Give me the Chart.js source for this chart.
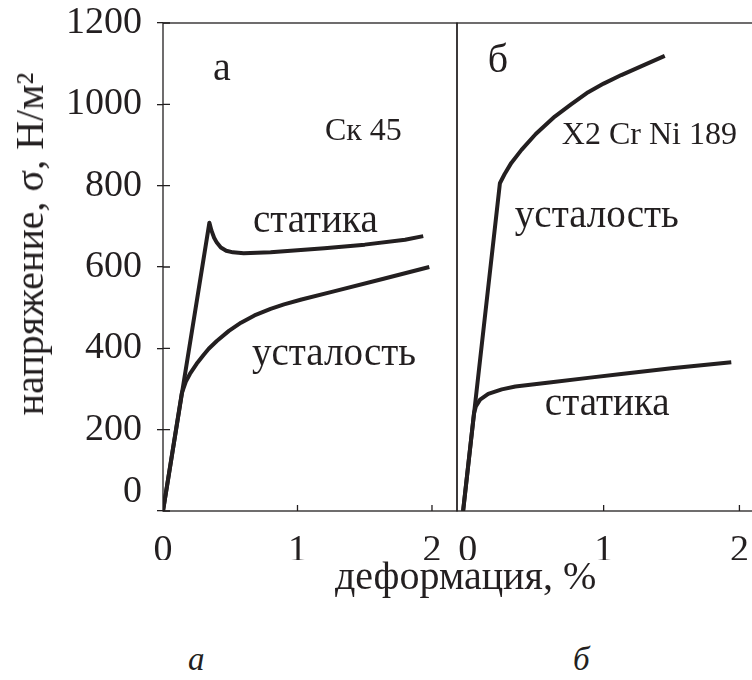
<!DOCTYPE html>
<html>
<head>
<meta charset="utf-8">
<script src="https://cdn.jsdelivr.net/npm/chart.js@4.4.0/dist/chart.umd.min.js"></script>
<style>
  html, body { margin: 0; padding: 0; background: #fff; width: 752px; height: 680px; overflow: hidden; }
  #wadah { position: relative; width: 752px; height: 680px; }
  canvas { position: absolute; top: 0; }
  .teks { position: absolute; font-family: "Liberation Serif", "Times New Roman", serif; color: #231f20; white-space: nowrap; line-height: 1; }
</style>
</head>
<body>
<div id="wadah">
  <canvas id="grafikA" width="460" height="560" style="left:0;width:460px;height:560px"></canvas>
  <canvas id="grafikB" width="320" height="560" style="left:440px;width:320px;height:560px"></canvas>
  <div class="teks" id="judulY" style="font-size:40px;left:29.5px;top:243.5px;transform:translate(-50%,-50%) rotate(-90deg)">напряжение, σ, Н/м²</div>
  <div class="teks" id="judulX" style="font-size:40px;left:335px;top:556px">деформация, %</div>
  <div class="teks" style="font-size:33px;font-style:italic;left:188px;top:643px">а</div>
  <div class="teks" style="font-size:33px;font-style:italic;left:573px;top:643px">б</div>
</div>
<script>
// Data: deformasi (%) dan tegangan (Н/м²)
const tikX = [0, 1, 2];
const tikY = [0, 200, 400, 600, 800, 1000, 1200];

// Panel а (Ск 45)
const deformA_statika = [0, 0.345, 0.36, 0.38, 0.40, 0.43, 0.47, 0.52, 0.6, 0.8, 1.0, 1.2, 1.5, 1.8, 1.935];
const teganganA_statika = [0, 709, 690, 672, 660, 648, 640, 636, 634, 636, 641, 646, 655, 667, 676];
const deformA_lelah = [0, 0.14, 0.17, 0.2, 0.25, 0.3, 0.34, 0.4, 0.49, 0.58, 0.68, 0.8, 0.9, 1.03, 1.27, 1.64, 1.98];
const teganganA_lelah = [0, 290, 318, 337, 362, 383, 399, 418, 443, 463, 481, 497, 508, 520, 540, 571, 600];

// Panel б (X2 Cr Ni 189)
const deformB_lelah = [-0.035, 0.236, 0.27, 0.32, 0.395, 0.5, 0.64, 0.76, 0.886, 1.0, 1.13, 1.3, 1.45];
const teganganB_lelah = [0, 806, 828, 856, 888, 927, 970, 1000, 1030, 1051, 1072, 1097, 1119];
const deformB_statika = [-0.035, 0.045, 0.06, 0.09, 0.15, 0.25, 0.35, 0.6, 0.9, 1.13, 1.5, 1.94];
const teganganB_statika = [0, 240, 258, 274, 288, 299, 306, 316, 328, 337, 351, 366];

const warnaTinta = '#231f20';
const hurufSerif = '"Liberation Serif", "Times New Roman", serif';
Chart.defaults.font.family = hurufSerif;
Chart.defaults.color = warnaTinta;

function titik(xs, ys) {
  return xs.map((x, i) => ({ x: x, y: ys[i] }));
}

function datasetKurva(xs, ys) {
  return {
    data: titik(xs, ys),
    showLine: true,
    borderColor: warnaTinta,
    borderWidth: 4,
    pointRadius: 0,
    tension: 0,
    borderJoinStyle: 'round',
    borderCapStyle: 'butt'
  };
}

// Bingkai, tik ke dalam dan keterangan teks di dalam panel
const pluginBingkai = {
  id: 'bingkai',
  afterDatasetsDraw(chart, args, opts) {
    const { ctx, chartArea: a, scales } = chart;
    ctx.save();
    ctx.strokeStyle = warnaTinta;
    ctx.lineWidth = 1.3;
    ctx.strokeRect(a.left, a.top, a.right - a.left, a.bottom - a.top);
    ctx.beginPath();
    (opts.tikXDalam || []).forEach(v => {
      const px = scales.x.getPixelForValue(v);
      ctx.moveTo(px, a.bottom);
      ctx.lineTo(px, a.bottom - 6);
    });
    (opts.tikYDalam || []).forEach(v => {
      const py = scales.y.getPixelForValue(v);
      ctx.moveTo(a.left, py);
      ctx.lineTo(a.left + 7, py);
    });
    ctx.stroke();
    ctx.fillStyle = warnaTinta;
    ctx.textAlign = 'left';
    ctx.textBaseline = 'alphabetic';
    (opts.label || []).forEach(l => {
      ctx.font = l.ukuran + 'px ' + hurufSerif;
      ctx.fillText(l.teks, scales.x.getPixelForValue(l.x), scales.y.getPixelForValue(l.y));
    });
    ctx.restore();
  }
};

// buang padding otomatis label supaya area plot tepat
function nolPadding(s) {
  s.paddingTop = 0;
  s.paddingBottom = 0;
  s.paddingLeft = 0;
  s.paddingRight = 0;
}

function skalaX(min, max) {
  return {
    type: 'linear',
    min: min,
    max: max,
    afterBuildTicks: s => { s.ticks = tikX.map(v => ({ value: v })); },
    afterFit: s => { s.height = 49; nolPadding(s); },
    grid: { display: false },
    border: { display: false },
    ticks: { color: warnaTinta, padding: 9, font: { family: hurufSerif, size: 38 } }
  };
}

function skalaY(tampil) {
  return {
    type: 'linear',
    display: tampil,
    min: 0,
    max: 1200,
    afterBuildTicks: s => { s.ticks = tikY.map(v => ({ value: v })); },
    afterFit: s => { if (tampil) s.width = 163; nolPadding(s); },
    grid: { display: true, drawOnChartArea: false, drawTicks: true, tickLength: 6, color: warnaTinta, lineWidth: 1.3 },
    border: { display: false },
    ticks: {
      color: warnaTinta,
      padding: 15,
      font: { family: hurufSerif, size: 38, lineHeight: 1 },
      callback: v => (v === 0 ? ['0', ''] : String(v))
    }
  };
}

const grafikA = new Chart(document.getElementById('grafikA').getContext('2d'), {
  type: 'scatter',
  data: {
    datasets: [
      datasetKurva(deformA_statika, teganganA_statika),
      datasetKurva(deformA_lelah, teganganA_lelah)
    ]
  },
  options: {
    responsive: false,
    animation: false,
    devicePixelRatio: 1,
    layout: { padding: { left: 0, top: 23, right: 3, bottom: 0 } },
    scales: { x: skalaX(0, 2.186), y: skalaY(true) },
    plugins: {
      legend: { display: false },
      tooltip: { enabled: false },
      bingkai: {
        tikXDalam: [1, 2],
        tikYDalam: tikY,
        label: [
          { teks: 'а', x: 0.372, y: 1060, ukuran: 40 },
          { teks: 'Ск 45', x: 1.204, y: 912, ukuran: 32 },
          { teks: 'статика', x: 0.669, y: 686, ukuran: 39 },
          { teks: 'усталость', x: 0.662, y: 359, ukuran: 39 }
        ]
      }
    }
  },
  plugins: [pluginBingkai]
});

const grafikB = new Chart(document.getElementById('grafikB').getContext('2d'), {
  type: 'scatter',
  data: {
    datasets: [
      datasetKurva(deformB_lelah, teganganB_lelah),
      datasetKurva(deformB_statika, teganganB_statika)
    ]
  },
  options: {
    responsive: false,
    animation: false,
    devicePixelRatio: 1,
    layout: { padding: { left: 17, top: 23, right: 7, bottom: 0 } },
    scales: { x: skalaX(-0.08, 2.1), y: skalaY(false) },
    plugins: {
      legend: { display: false },
      tooltip: { enabled: false },
      bingkai: {
        tikXDalam: [1, 2],
        label: [
          { teks: 'б', x: 0.147, y: 1079, ukuran: 40 },
          { teks: 'X2 Cr Ni 189', x: 0.692, y: 902, ukuran: 32 },
          { teks: 'усталость', x: 0.346, y: 698, ukuran: 39 },
          { teks: 'статика', x: 0.567, y: 236, ukuran: 39 }
        ]
      }
    }
  },
  plugins: [pluginBingkai]
});
</script>
</body>
</html>
